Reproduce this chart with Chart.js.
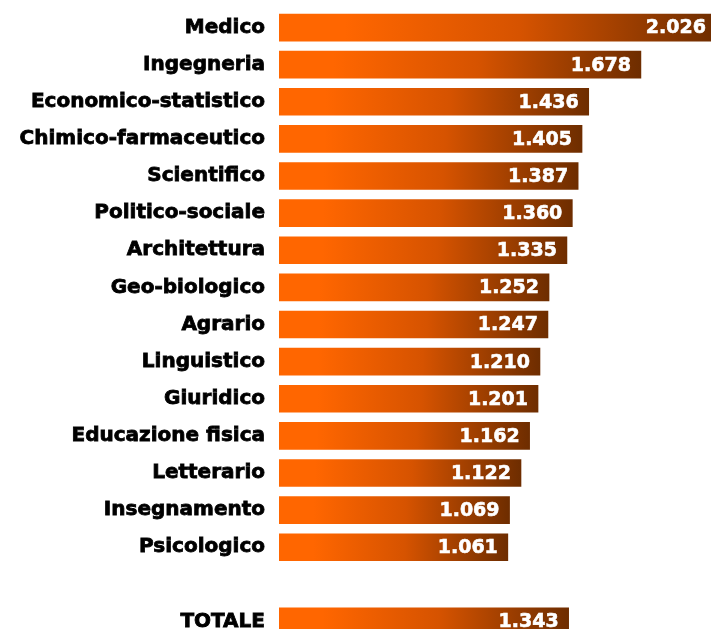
<!DOCTYPE html>
<html>
<head>
<meta charset="utf-8">
<script src="https://cdn.jsdelivr.net/npm/chart.js@4/dist/chart.umd.min.js"></script>
<style>
  html, body { margin: 0; padding: 0; background: #fff; overflow: hidden; }
  #wrap { width: 711px; height: 640px; }
</style>
</head>
<body>
<div id="wrap"><canvas id="chart-gruppi"></canvas></div>
<script>
// --- dati ---
const gruppi = [
    "Medico", "Ingegneria", "Economico-statistico", "Chimico-farmaceutico",
    "Scientifico", "Politico-sociale", "Architettura", "Geo-biologico",
    "Agrario", "Linguistico", "Giuridico", "Educazione fisica",
    "Letterario", "Insegnamento", "Psicologico", "", "TOTALE"
];
const valori = [
    2026, 1678, 1436, 1405, 1387, 1360, 1335, 1252,
    1247, 1210, 1201, 1162, 1122, 1069, 1061, null, 1343
];

const FONT = "'DejaVu Sans', Verdana, sans-serif";

// sfumatura arancio -> marrone per ogni barra
function gradiente(context) {
    const chart = context.chart;
    const scale = chart.scales.x;
    const v = context.raw;
    if (!scale || v == null || !chart.chartArea) return "#ff6600";
    const x0 = scale.getPixelForValue(0);
    const x1 = scale.getPixelForValue(v);
    if (!isFinite(x0) || !isFinite(x1) || x1 <= x0) return "#ff6600";
    const g = chart.ctx.createLinearGradient(x0, 0, x1, 0);
    g.addColorStop(0, "#ff6600");
    g.addColorStop(0.15, "#ff6600");
    g.addColorStop(0.55, "#d65300");
    g.addColorStop(1, "#6e2d00");
    return g;
}

// etichette dei valori dentro la barra
const etichetteValori = {
    id: "etichetteValori",
    afterDatasetsDraw(chart) {
        const ctx = chart.ctx;
        const meta = chart.getDatasetMeta(0);
        ctx.save();
        ctx.fillStyle = "#ffffff";
        ctx.strokeStyle = "#ffffff";
        ctx.lineWidth = 0.6;
        ctx.font = "bold 19px " + FONT;
        ctx.textAlign = "right";
        ctx.textBaseline = "middle";
        meta.data.forEach((bar, i) => {
            const v = valori[i];
            if (v == null) return;
            const testo = v.toLocaleString("it-IT");
            ctx.strokeText(testo, bar.x - 10, bar.y + 1);
            ctx.fillText(testo, bar.x - 10, bar.y + 1);
        });
        ctx.restore();
    }
};

new Chart(document.getElementById("chart-gruppi").getContext("2d"), {
    type: "bar",
    data: {
        labels: gruppi,
        datasets: [{
            data: valori,
            backgroundColor: gradiente,
            barThickness: 27,
            borderWidth: 0
        }]
    },
    options: {
        indexAxis: "y",
        responsive: true,
        maintainAspectRatio: false,
        animation: false,
        layout: { padding: { top: 9, right: 0, bottom: 0, left: 0 } },
        plugins: {
            legend: { display: false },
            tooltip: { enabled: false }
        },
        scales: {
            x: {
                display: false,
                min: 0,
                max: 2003
            },
            y: {
                grid: { display: false, drawTicks: false },
                border: { display: false },
                afterFit(scale) {
                    scale.width = 279;
                    scale.paddingTop = 0;    // niente margine extra sopra/sotto
                    scale.paddingBottom = 0;
                },
                ticks: {
                    color: "#000",
                    padding: 14,
                    autoSkip: false,
                    textStrokeColor: "#000",
                    textStrokeWidth: 0.8,
                    font: { family: FONT, size: 20, weight: "bold" }
                }
            }
        }
    },
    plugins: [etichetteValori]
});
</script>
</body>
</html>
